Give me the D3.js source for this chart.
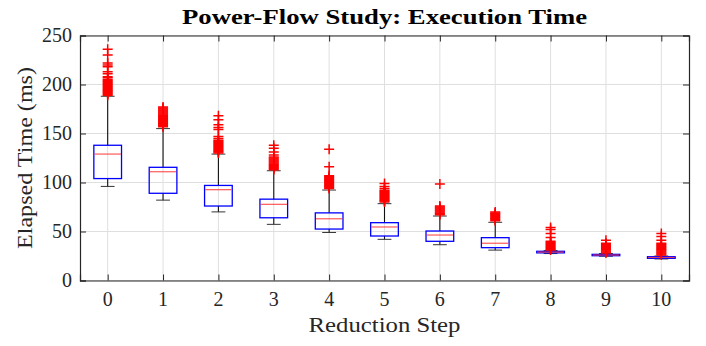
<!DOCTYPE html>
<html>
<head>
<meta charset="utf-8">
<script src="https://cdn.jsdelivr.net/npm/d3@7"></script>
<style>
  body { margin: 0; background: #fff; }
  svg { display: block; }
</style>
</head>
<body>
<div id="chart"></div>
<script>
'use strict';

// reduction steps on the x axis
const steps = [0, 1, 2, 3, 4, 5, 6, 7, 8, 9, 10];

// box statistics per step (ms)
const lowerWhisker = [96, 82, 70, 57.3, 49, 42, 36.5, 31, 27.5, 24.8, 22];
const quartile1 = [104, 89, 76, 64, 52.5, 45.4, 40, 33.5, 28.2, 25.3, 22.6];
const medians = [129, 111, 92.7, 77.7, 63, 54.6, 46.4, 38, 29, 26, 23.5];
const quartile3 = [138, 115.5, 97, 83, 69, 59, 50.5, 43.7, 29.8, 26.7, 24.3];
const upperWhisker = [188, 155, 129, 112, 92.3, 78.4, 65.8, 59.4, 30.5, 27.5, 25];

// outliers per step (ms)
const outliers = [
  [189, 190, 191, 192, 193, 194, 195, 196, 197, 198, 199, 200, 201, 202, 203, 204, 205, 207, 208, 211, 213, 218, 220, 222, 230, 236],
  [157, 158, 159, 160, 161, 162, 163, 164, 165, 166, 167, 168, 169, 170, 171, 172, 173, 174, 175, 176, 177],
  [130, 131, 132, 133, 134, 135, 136, 137, 138, 139, 140, 141, 142, 143, 145, 147, 154, 156, 159, 164, 168],
  [113, 114, 115, 116, 117, 118, 119, 120, 121, 122, 123, 124, 125, 126, 128, 131, 135, 138],
  [94, 95, 96, 97, 98, 99, 100, 101, 102, 103, 104, 105, 106, 107, 116, 134],
  [80, 81, 82, 83, 84, 85, 86, 87, 88, 89, 90, 91, 92, 94, 96, 99],
  [67, 68, 69, 70, 71, 72, 73, 74, 75, 76, 98.5],
  [61, 62, 63, 64, 65, 66, 67, 68, 69, 70],
  [31, 32, 33, 34, 35, 36, 37, 38, 39, 40, 44, 48, 52, 54],
  [28, 29, 30, 31, 32, 33, 34, 35, 36, 37, 38, 41],
  [26, 27, 28, 29, 30, 31, 32, 33, 34, 35, 36, 37, 38, 41, 45, 48]
];

const yTicks = [0, 50, 100, 150, 200, 250];

const width = 706;
const height = 346;
const margin = { top: 35.5, right: 17, bottom: 65.5, left: 80 };
const plotW = width - margin.left - margin.right;
const plotH = height - margin.top - margin.bottom;
const axisColor = '#262626';
const gridColor = '#dfdfdf';
const fontFamily = '"Liberation Serif", "DejaVu Serif", serif';
const tickLen = 6;

const xScale = d3.scaleLinear()
  .domain([-0.5, 10.5])
  .range([0, plotW]);

const yScale = d3.scaleLinear()
  .domain([0, 250])
  .range([plotH, 0]);

const step = xScale(1) - xScale(0);
const boxW = step * 0.5;
const capW = boxW * 0.5;
const markSize = 5;

const svg = d3.select('#chart').append('svg')
  .attr('width', width)
  .attr('height', height);

const plot = svg.append('g')
  .attr('transform', 'translate(' + margin.left + ',' + margin.top + ')');

// grid
plot.append('g').selectAll('line')
  .data(steps)
  .enter().append('line')
  .attr('x1', d => xScale(d)).attr('x2', d => xScale(d))
  .attr('y1', 0).attr('y2', plotH)
  .attr('stroke', gridColor).attr('stroke-width', 1);

plot.append('g').selectAll('line')
  .data(yTicks)
  .enter().append('line')
  .attr('x1', 0).attr('x2', plotW)
  .attr('y1', d => yScale(d)).attr('y2', d => yScale(d))
  .attr('stroke', gridColor).attr('stroke-width', 1);

// boxes
const boxes = plot.append('g').selectAll('g')
  .data(steps)
  .enter().append('g')
  .attr('transform', d => 'translate(' + xScale(d) + ',0)');

// whiskers
boxes.append('line')
  .attr('y1', (d, i) => yScale(upperWhisker[i]))
  .attr('y2', (d, i) => yScale(quartile3[i]))
  .attr('stroke', '#111').attr('stroke-width', 1.1);
boxes.append('line')
  .attr('y1', (d, i) => yScale(quartile1[i]))
  .attr('y2', (d, i) => yScale(lowerWhisker[i]))
  .attr('stroke', '#111').attr('stroke-width', 1.1);

// caps
[upperWhisker, lowerWhisker].forEach(function (arr) {
  boxes.append('line')
    .attr('x1', -capW / 2).attr('x2', capW / 2)
    .attr('y1', (d, i) => yScale(arr[i]))
    .attr('y2', (d, i) => yScale(arr[i]))
    .attr('stroke', '#333').attr('stroke-width', 1);
});

boxes.append('rect')
  .attr('x', -boxW / 2)
  .attr('width', boxW)
  .attr('y', (d, i) => yScale(quartile3[i]))
  .attr('height', (d, i) => Math.max(1, yScale(quartile1[i]) - yScale(quartile3[i])))
  .attr('fill', 'none')
  .attr('stroke', '#0000ff')
  .attr('stroke-width', 1.3);

boxes.append('line')
  .attr('x1', -boxW / 2 + 0.6).attr('x2', boxW / 2 - 0.6)
  .attr('y1', (d, i) => yScale(medians[i]))
  .attr('y2', (d, i) => yScale(medians[i]))
  .attr('stroke', '#ff3030').attr('stroke-width', 1.3)
  .attr('stroke-opacity', 0.75);

// outliers as red '+'
boxes.each(function (d, i) {
  d3.select(this).selectAll('path.out')
    .data(outliers[i])
    .enter().append('path')
    .attr('class', 'out')
    .attr('d', v => {
      const y = yScale(v);
      return 'M' + (-markSize) + ',' + y + 'H' + markSize +
        'M0,' + (y - markSize) + 'V' + (y + markSize);
    })
    .attr('stroke', '#ff0000')
    .attr('stroke-width', 1.5)
    .attr('fill', 'none');
});

// axes frame with inward ticks on all sides
const xAxisB = d3.axisBottom(xScale).tickValues(steps).tickSize(-tickLen).tickFormat('');
const xAxisT = d3.axisTop(xScale).tickValues(steps).tickSize(-tickLen).tickFormat('');
const yAxisL = d3.axisLeft(yScale).tickValues(yTicks).tickSize(-tickLen).tickFormat('');
const yAxisR = d3.axisRight(yScale).tickValues(yTicks).tickSize(-tickLen).tickFormat('');

[[xAxisB, 'translate(0,' + plotH + ')'], [xAxisT, null],
 [yAxisL, null], [yAxisR, 'translate(' + plotW + ',0)']].forEach(function (a) {
  const g = plot.append('g').call(a[0]);
  if (a[1]) g.attr('transform', a[1]);
  g.select('.domain').attr('stroke', axisColor).attr('stroke-width', 1.2);
  g.selectAll('.tick line').attr('stroke', axisColor).attr('stroke-width', 1);
});

// tick labels
plot.append('g').selectAll('text')
  .data(steps)
  .enter().append('text')
  .attr('x', d => xScale(d))
  .attr('y', plotH + 25)
  .attr('text-anchor', 'middle')
  .attr('font-family', fontFamily)
  .attr('font-size', 20)
  .attr('fill', axisColor)
  .text(d => d);

plot.append('g').selectAll('text')
  .data(yTicks)
  .enter().append('text')
  .attr('x', -8)
  .attr('y', d => yScale(d) + 6.5)
  .attr('text-anchor', 'end')
  .attr('font-family', fontFamily)
  .attr('font-size', 20)
  .attr('fill', axisColor)
  .text(d => d);

// title and labels
svg.append('text')
  .attr('x', margin.left + plotW / 2)
  .attr('y', 24)
  .attr('text-anchor', 'middle')
  .attr('font-family', fontFamily)
  .attr('font-weight', 'bold')
  .attr('font-size', 21)
  .attr('textLength', 405)
  .attr('lengthAdjust', 'spacingAndGlyphs')
  .attr('fill', '#000')
  .text('Power-Flow Study: Execution Time');

svg.append('text')
  .attr('x', margin.left + plotW / 2)
  .attr('y', 332)
  .attr('text-anchor', 'middle')
  .attr('font-family', fontFamily)
  .attr('font-size', 22)
  .attr('textLength', 152)
  .attr('lengthAdjust', 'spacingAndGlyphs')
  .attr('fill', axisColor)
  .text('Reduction Step');

svg.append('text')
  .attr('transform', 'translate(32,' + (margin.top + plotH / 2) + ') rotate(-90)')
  .attr('text-anchor', 'middle')
  .attr('font-family', fontFamily)
  .attr('font-size', 22)
  .attr('textLength', 182)
  .attr('lengthAdjust', 'spacingAndGlyphs')
  .attr('fill', axisColor)
  .text('Elapsed Time (ms)');
</script>
</body>
</html>
